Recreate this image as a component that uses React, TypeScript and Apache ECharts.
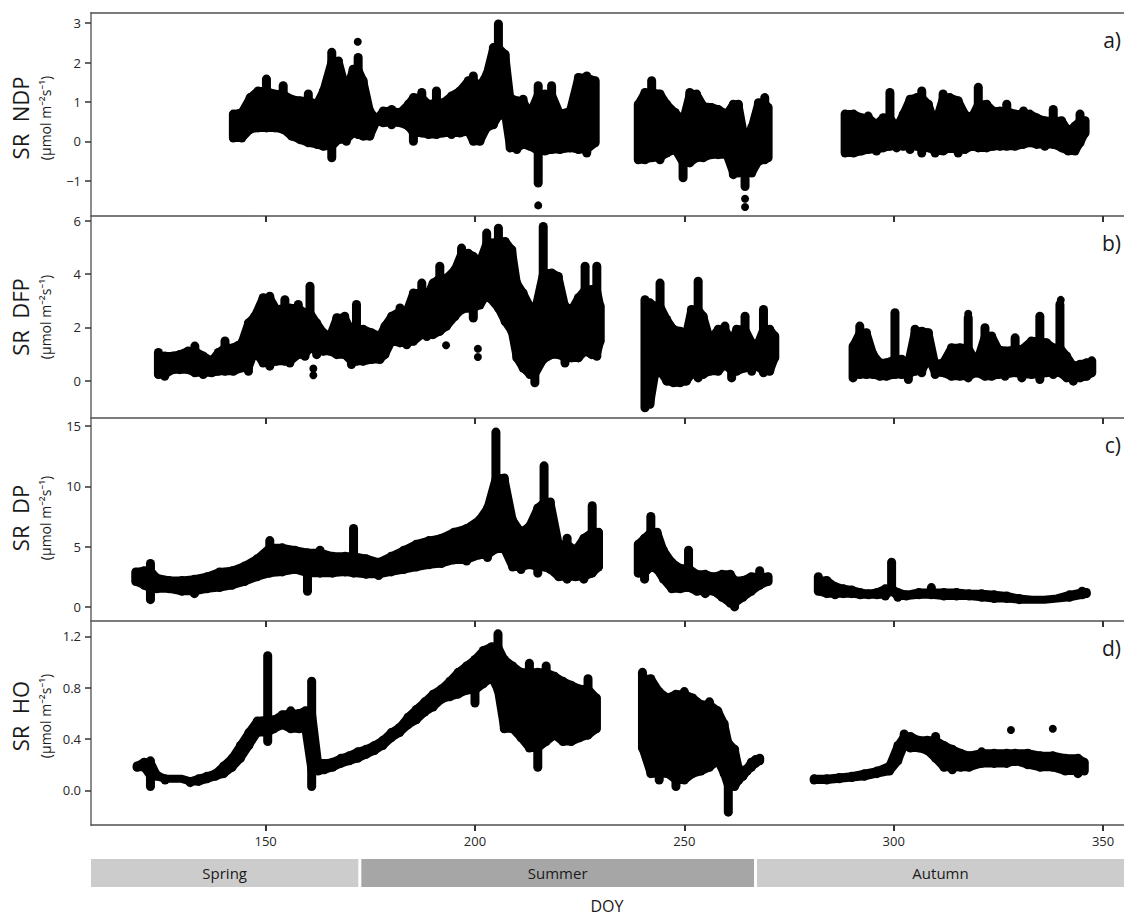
import React, { useEffect, useRef } from "react";
import * as echarts from "echarts";

// ---------- data (DOY, lowest value, highest value of the point cloud) ----------
const doyTicks = [150, 200, 250, 300, 350];
const ndpTicks = [-1, 0, 1, 2, 3];
const dfpTicks = [0, 2, 4, 6];
const dpTicks = [0, 5, 10, 15];
const hoTicks = [0, 0.4, 0.8, 1.2];

const panelNames = ["SR  NDP", "SR  DFP", "SR  DP", "SR  HO"];
const panelLetters = ["a)", "b)", "c)", "d)"];
const unitLabel = "(\u03bcmol m\u207b\u00b2s\u207b\u00b9)";

const seasonNames = ["Spring", "Summer", "Autumn"];
const seasonStart = [108.3, 172.5, 267.0];
const seasonEnd = [172.5, 267.0, 355.0];

const ndpEarly = [
  [142.3, 0.08, 0.69], [144.3, 0.08, 0.73], [146.3, 0.3, 1.11], [148.2, 0.34, 1.28],
  [150.2, 0.34, 1.58], [152.2, 0.34, 1.2], [154.2, 0.3, 1.41], [156.2, 0.13, 1.07],
  [158.2, 0.04, 1.03], [160.2, -0.04, 1.2], [162.2, -0.08, 0.94], [163.8, -0.13, 1.28],
  [165.8, -0.42, 2.26], [167.4, 0.04, 2.04], [169.3, 0.0, 1.28], [170.9, 0.21, 1.83],
  [172.1, 0.17, 2.13], [173.3, 0.13, 1.54], [174.9, 0.13, 0.77], [176.5, 0.51, 0.56],
  [178.1, 0.47, 0.77], [180.1, 0.42, 0.81], [182.1, 0.47, 0.73], [184.1, 0.38, 0.94],
  [185.3, 0.0, 1.11], [187.3, 0.21, 1.24], [188.9, 0.17, 0.94], [190.8, 0.17, 1.28],
  [192.4, 0.21, 0.98], [194.4, 0.17, 1.15], [196.4, 0.21, 1.28], [198.4, 0.25, 1.54],
  [199.6, 0.0, 1.66], [201.2, 0.0, 1.41], [202.8, 0.34, 1.7], [204.4, 0.42, 2.38],
  [205.6, 0.64, 2.98], [207.2, 0.68, 2.21], [208.4, -0.17, 1.11], [210.0, -0.21, 1.03],
  [211.5, -0.08, 1.07], [213.1, -0.13, 0.69], [215.1, -1.06, 1.41], [216.7, -0.25, 1.2],
  [218.3, -0.21, 1.41], [220.3, -0.21, 0.69], [222.7, -0.17, 0.77], [224.7, -0.21, 1.62],
  [226.7, -0.3, 1.66], [228.7, -0.04, 1.54],
];
const ndpLate = [
  [239.0, -0.47, 0.94], [240.6, -0.47, 1.24], [242.2, -0.42, 1.54], [244.2, -0.47, 1.2],
  [245.8, -0.3, 0.94], [247.8, -0.21, 0.73], [249.7, -0.93, 0.52], [251.3, -0.55, 1.24],
  [252.9, -0.42, 1.2], [254.5, -0.42, 0.9], [256.5, -0.34, 0.86], [258.1, -0.34, 0.81],
  [260.1, -0.34, 0.69], [261.7, -0.85, 0.94], [262.9, -0.81, 0.94], [264.5, -1.15, 0.01],
  [266.1, -0.81, 0.35], [267.7, -0.51, 0.98], [269.2, -0.47, 1.11], [270.0, -0.42, 0.86],
];
const ndpAutumn = [
  [288.4, -0.3, 0.69], [290.4, -0.3, 0.69], [292.3, -0.25, 0.6], [293.9, -0.21, 0.64],
  [295.9, -0.25, 0.43], [297.5, -0.17, 0.6], [299.1, -0.13, 1.24], [300.7, -0.17, 0.35],
  [302.3, -0.13, 0.69], [303.9, -0.21, 1.07], [305.5, -0.13, 1.11], [306.7, -0.3, 1.28],
  [308.3, -0.17, 0.94], [309.9, -0.3, 0.43], [311.8, -0.25, 1.2], [313.4, -0.17, 1.11],
  [315.4, -0.3, 1.03], [317.0, -0.21, 0.69], [318.6, -0.13, 0.6], [320.2, -0.17, 1.37],
  [322.2, -0.17, 0.94], [323.8, -0.13, 0.77], [325.4, -0.13, 0.77], [327.0, -0.13, 0.94],
  [329.0, -0.13, 0.69], [331.0, -0.08, 0.77], [332.5, -0.04, 0.69], [334.1, -0.08, 0.6],
  [336.1, -0.13, 0.52], [338.1, -0.08, 0.81], [340.1, -0.17, 0.52], [341.7, -0.25, 0.26],
  [343.3, -0.25, 0.39], [344.5, -0.04, 0.69], [345.7, 0.21, 0.52],
];
const ndpDots = [[215.1, -1.63], [264.5, -1.46], [264.5, -1.67], [172.0, 2.53]];

const dfpEarly = [
  [124.4, 0.24, 1.06], [125.9, 0.17, 0.93], [127.9, 0.42, 0.93], [129.5, 0.42, 0.99],
  [131.5, 0.42, 1.12], [133.1, 0.3, 1.3], [135.1, 0.24, 0.93], [137.1, 0.3, 0.75],
  [138.7, 0.36, 1.06], [140.3, 0.36, 1.49], [142.3, 0.36, 1.24], [144.3, 0.48, 1.43],
  [145.9, 0.36, 2.17], [147.4, 1.11, 2.42], [149.4, 0.67, 3.11], [151.0, 0.55, 3.17],
  [152.6, 0.73, 2.67], [154.6, 0.73, 3.04], [155.8, 0.67, 2.73], [157.8, 0.98, 2.86],
  [159.4, 0.92, 2.55], [160.6, 1.23, 3.54], [162.2, 0.98, 2.17], [163.8, 1.11, 1.8],
  [165.4, 1.11, 1.68], [167.0, 0.98, 2.36], [168.9, 0.98, 2.42], [170.5, 0.61, 1.86],
  [171.7, 0.73, 2.86], [173.3, 0.73, 1.93], [175.3, 0.8, 1.8], [177.3, 0.8, 1.68],
  [178.5, 0.98, 2.05], [180.1, 1.48, 2.42], [182.1, 1.42, 2.73], [183.7, 1.35, 2.61],
  [185.3, 1.48, 3.29], [187.3, 1.73, 3.66], [188.5, 1.66, 3.17], [190.0, 1.73, 3.66],
  [191.6, 1.85, 4.29], [193.2, 2.04, 3.85], [195.2, 2.41, 4.16], [196.8, 2.66, 4.97],
  [198.4, 2.72, 4.78], [199.6, 2.35, 4.66], [201.2, 2.84, 4.47], [202.8, 3.22, 5.53],
  [203.6, 3.09, 5.16], [205.6, 2.72, 5.71], [207.2, 2.22, 5.22], [208.8, 1.85, 4.91],
  [210.0, 0.86, 3.66], [211.5, 0.48, 3.29], [213.1, 0.24, 2.8], [214.3, -0.07, 2.61],
  [216.3, 0.8, 5.78], [218.3, 0.98, 4.04], [219.9, 0.98, 3.91], [221.5, 0.67, 2.8],
  [223.1, 0.86, 2.67], [224.7, 0.86, 3.11], [226.3, 1.11, 4.29], [227.9, 0.98, 3.42],
  [229.1, 0.92, 4.29], [229.9, 1.48, 2.8],
];
const dfpLate = [
  [240.6, -1.01, 3.04], [241.8, -0.88, 2.92], [243.0, 0.24, 2.8], [244.2, 0.36, 3.66],
  [245.8, -0.01, 2.3], [247.4, -0.07, 1.93], [249.0, -0.07, 1.86], [250.5, -0.01, 1.8],
  [251.7, 0.24, 2.67], [253.3, 0.11, 3.73], [254.5, 0.24, 2.42], [256.1, 0.36, 1.55],
  [258.1, 0.36, 1.93], [259.7, 0.61, 2.05], [261.3, 0.11, 1.49], [262.5, 0.36, 1.93],
  [264.5, 0.48, 2.42], [266.1, 0.36, 1.43], [267.3, 0.55, 1.3], [268.9, 0.3, 2.67],
  [270.4, 0.36, 1.93], [271.6, 0.86, 1.68],
];
const dfpAutumn = [
  [290.3, 0.11, 1.3], [291.9, 0.24, 2.05], [293.5, 0.24, 1.8], [295.1, 0.24, 0.99],
  [296.7, 0.17, 0.68], [298.3, 0.17, 0.68], [300.3, 0.24, 2.55], [301.9, 0.24, 0.81],
  [303.5, 0.05, 0.68], [305.1, 0.36, 1.93], [306.7, 0.3, 1.86], [308.3, 0.86, 1.8],
  [309.9, 0.24, 0.62], [311.8, 0.3, 0.68], [313.8, 0.17, 1.24], [315.8, 0.17, 1.24],
  [317.8, 0.11, 2.36], [319.8, 0.3, 0.68], [321.8, 0.17, 1.99], [323.4, 0.17, 1.68],
  [325.0, 0.24, 1.18], [326.6, 0.17, 1.12], [329.0, 0.3, 1.61], [330.6, 0.11, 1.18],
  [332.9, 0.24, 1.49], [334.9, 0.05, 2.42], [336.5, 0.3, 1.43], [338.1, 0.24, 1.24],
  [339.7, 0.3, 2.86], [341.3, 0.11, 0.93], [342.9, -0.01, 0.56], [344.5, 0.11, 0.62],
  [346.1, 0.17, 0.68], [347.3, 0.3, 0.75],
];
const dfpDots = [[161.4, 0.46], [161.4, 0.21], [200.7, 0.89], [200.7, 1.2], [193.1, 1.33], [317.8, 2.51], [339.9, 3.03]];

const dpEarly = [
  [119.0, 2.1, 2.9], [121.0, 1.8, 3.0], [122.5, 0.6, 3.6], [124.0, 1.5, 2.4],
  [127.0, 1.5, 2.2], [130.0, 1.3, 2.2], [133.0, 1.1, 2.3], [136.0, 1.5, 2.5],
  [139.0, 1.6, 2.9], [142.0, 1.8, 3.0], [145.0, 2.1, 3.4], [148.0, 2.5, 4.0],
  [151.0, 2.8, 5.5], [154.0, 2.9, 4.9], [157.0, 3.1, 4.7], [160.0, 1.3, 4.5],
  [163.0, 2.8, 4.7], [166.0, 2.8, 4.2], [169.0, 2.9, 4.2], [171.0, 2.8, 6.5],
  [174.0, 2.7, 4.0], [177.0, 2.6, 3.7], [180.0, 2.9, 4.2], [183.0, 3.1, 4.7],
  [186.0, 3.3, 5.2], [189.0, 3.5, 5.5], [192.0, 3.6, 5.7], [195.0, 3.9, 6.2],
  [198.0, 3.8, 6.5], [201.0, 4.3, 7.2], [203.0, 4.1, 8.2], [205.0, 4.8, 14.5],
  [207.0, 4.8, 10.7], [209.0, 3.3, 7.2], [211.0, 3.1, 6.2], [213.0, 3.5, 6.7],
  [215.0, 2.8, 8.2], [216.5, 3.3, 11.7], [218.0, 3.1, 8.7], [220.0, 2.5, 5.2],
  [222.0, 2.3, 5.7], [224.0, 2.5, 4.7], [226.0, 2.3, 5.7], [228.0, 2.8, 8.4],
  [229.5, 3.3, 6.2],
];
const dpLate = [
  [239.0, 2.8, 5.2], [240.5, 2.3, 5.7], [242.0, 3.3, 7.5], [243.5, 3.1, 6.2],
  [245.0, 2.3, 4.7], [247.0, 1.5, 3.7], [249.0, 1.5, 3.2], [251.0, 1.6, 4.7],
  [253.0, 1.3, 2.7], [255.0, 1.1, 2.7], [257.0, 1.3, 2.5], [259.0, 0.8, 2.7],
  [261.0, 0.3, 2.7], [262.0, 0.0, 2.2], [264.0, 0.8, 2.2], [266.0, 1.3, 2.5],
  [268.0, 1.8, 3.0], [270.0, 2.1, 2.5],
];
const dpAutumn = [
  [282.0, 1.3, 2.5], [284.0, 1.1, 2.2], [286.0, 1.0, 1.7], [288.0, 1.1, 1.5],
  [290.0, 1.1, 1.4], [292.0, 1.0, 1.2], [294.0, 1.0, 1.1], [296.0, 1.0, 1.2],
  [298.0, 0.9, 1.5], [299.5, 1.3, 3.7], [301.0, 0.8, 1.2], [303.0, 0.9, 1.0],
  [306.0, 1.0, 1.2], [309.0, 1.0, 1.6], [312.0, 0.9, 1.2], [315.0, 0.9, 1.2],
  [318.0, 0.9, 1.1], [321.0, 0.8, 1.1], [324.0, 0.7, 1.0], [327.0, 0.7, 0.9],
  [330.0, 0.6, 0.7], [333.0, 0.6, 0.6], [336.0, 0.6, 0.6], [339.0, 0.7, 0.7],
  [342.0, 0.8, 1.0], [345.0, 1.0, 1.3], [346.0, 1.1, 1.2],
];
const dpDots = [];

const hoEarly = [
  [119.3, 0.18, 0.19], [121.0, 0.18, 0.22], [122.5, 0.03, 0.23], [124.0, 0.11, 0.12],
  [126.0, 0.08, 0.09], [128.0, 0.09, 0.09], [130.0, 0.09, 0.09], [132.0, 0.06, 0.07],
  [134.0, 0.07, 0.09], [136.0, 0.09, 0.11], [138.0, 0.11, 0.13], [140.0, 0.13, 0.19],
  [142.0, 0.18, 0.25], [144.0, 0.25, 0.35], [146.0, 0.35, 0.45], [148.0, 0.45, 0.54],
  [150.5, 0.38, 1.05], [152.0, 0.48, 0.55], [154.0, 0.51, 0.59], [156.0, 0.48, 0.62],
  [158.0, 0.48, 0.6], [159.5, 0.48, 0.62], [161.0, 0.03, 0.85], [162.5, 0.15, 0.22],
  [164.0, 0.16, 0.21], [166.0, 0.18, 0.22], [168.0, 0.21, 0.25], [170.0, 0.23, 0.27],
  [172.0, 0.25, 0.3], [174.0, 0.28, 0.32], [176.0, 0.31, 0.35], [178.0, 0.35, 0.39],
  [180.0, 0.41, 0.45], [182.0, 0.45, 0.49], [184.0, 0.51, 0.57], [186.0, 0.55, 0.63],
  [188.0, 0.61, 0.69], [190.0, 0.65, 0.75], [192.0, 0.71, 0.79], [194.0, 0.73, 0.85],
  [196.0, 0.75, 0.92], [198.0, 0.78, 0.97], [200.0, 0.68, 1.02], [202.0, 0.83, 1.09],
  [204.0, 0.88, 1.12], [205.5, 0.78, 1.22], [207.0, 0.48, 1.02], [209.0, 0.48, 0.97],
  [211.0, 0.41, 0.92], [213.0, 0.33, 0.99], [215.0, 0.18, 0.92], [217.0, 0.38, 0.97],
  [219.0, 0.43, 0.89], [221.0, 0.38, 0.85], [223.0, 0.38, 0.82], [225.0, 0.41, 0.79],
  [227.0, 0.43, 0.87], [229.0, 0.48, 0.72],
];
const hoLate = [
  [240.0, 0.33, 0.92], [242.0, 0.13, 0.87], [244.0, 0.08, 0.77], [246.0, 0.13, 0.72],
  [248.0, 0.03, 0.75], [250.0, 0.08, 0.77], [252.0, 0.13, 0.72], [254.0, 0.15, 0.67],
  [256.0, 0.18, 0.69], [258.0, 0.23, 0.62], [259.5, 0.13, 0.52], [260.5, -0.17, 0.37],
  [262.0, 0.03, 0.32], [263.0, 0.08, 0.17], [264.0, 0.11, 0.15], [265.0, 0.15, 0.17],
  [266.0, 0.18, 0.22], [267.0, 0.21, 0.24], [268.0, 0.23, 0.25],
];
const hoAutumn = [
  [281.0, 0.08, 0.09], [284.0, 0.08, 0.09], [287.0, 0.09, 0.1], [290.0, 0.1, 0.11],
  [293.0, 0.11, 0.13], [296.0, 0.13, 0.15], [299.0, 0.15, 0.19], [301.0, 0.23, 0.35],
  [302.5, 0.35, 0.44], [304.0, 0.33, 0.42], [306.0, 0.33, 0.39], [308.0, 0.31, 0.39],
  [310.0, 0.25, 0.42], [312.0, 0.18, 0.35], [314.0, 0.16, 0.32], [316.0, 0.18, 0.29],
  [318.0, 0.18, 0.27], [321.0, 0.21, 0.3], [324.0, 0.21, 0.29], [327.0, 0.21, 0.29],
  [329.0, 0.23, 0.29], [332.0, 0.2, 0.29], [335.0, 0.18, 0.27], [338.0, 0.18, 0.27],
  [341.0, 0.15, 0.25], [344.0, 0.13, 0.25], [345.5, 0.15, 0.22],
];
const hoDots = [[328.0, 0.47], [338.0, 0.48]];

// ---------- layout ----------
const FONT = '"Open Sans", "Noto Sans", "DejaVu Sans", sans-serif';
const X_MIN = 108.3;
const X_MAX = 355;
const GRID_LEFT = 91;
const DOT = 8;
const panelTops = [13, 216, 418, 621];
const panelHeights = [203, 202, 203, 204];
const yMins = [-1.9, -1.39, -1.17, -0.27];
const yMaxs = [3.26, 6.17, 15.67, 1.32];
const titleY = [118, 317, 518, 716];
const letterY = [40, 243, 445, 648];

const panels = [
  { ticks: ndpTicks, segs: [ndpEarly, ndpLate, ndpAutumn], dots: ndpDots },
  { ticks: dfpTicks, segs: [dfpEarly, dfpLate, dfpAutumn], dots: dfpDots },
  { ticks: dpTicks, segs: [dpEarly, dpLate, dpAutumn], dots: dpDots },
  { ticks: hoTicks, segs: [hoEarly, hoLate, hoAutumn], dots: hoDots },
];

function fmtY(i: number) {
  return (v: number) => {
    if (i === 3) return v.toFixed(1);
    return v < 0 ? "\u2212" + Math.abs(v) : String(v);
  };
}

// Each segment of the point cloud: a body polygon (peaks trimmed to the
// neighbours' extent) plus one round-capped column of dots per sampled day.
function blobRenderer(segs: number[][][]) {
  return (params: any, api: any) => {
    const seg = segs[api.value(2)];
    const n = seg.length;
    const hiP: number[] = [];
    const loP: number[] = [];
    for (let k = 0; k < n; k++) {
      const nb: number[][] = [];
      if (k > 0) nb.push(seg[k - 1]);
      if (k < n - 1) nb.push(seg[k + 1]);
      const nbHi = Math.max(...nb.map((r) => r[2]));
      const nbLo = Math.min(...nb.map((r) => r[1]));
      let h = Math.min(seg[k][2], nbHi);
      let l = Math.max(seg[k][1], nbLo);
      if (l > h) { const m = (l + h) / 2; l = m; h = m; }
      hiP.push(h);
      loP.push(l);
    }
    const top = seg.map((r, k) => api.coord([r[0], hiP[k]]));
    const bot = seg.map((r, k) => api.coord([r[0], loP[k]])).reverse();
    const children: any[] = [
      {
        type: "polygon",
        shape: { points: top.concat(bot) },
        style: { fill: "#000", stroke: "#000", lineWidth: DOT, lineJoin: "round" },
      },
    ];
    seg.forEach((r) => {
      const a = api.coord([r[0], r[2]]);
      const b = api.coord([r[0], r[1]]);
      children.push({
        type: "line",
        shape: { x1: a[0], y1: a[1], x2: b[0], y2: b[1] },
        style: { stroke: "#000", lineWidth: DOT + 1, lineCap: "round" },
      });
    });
    return { type: "group", children };
  };
}

function buildOption() {
  const grid: any[] = panelTops.map((t, i) => ({
    left: GRID_LEFT, right: 0, top: t, height: panelHeights[i], containLabel: false,
  }));
  grid.push({ left: GRID_LEFT, right: 0, top: 859, height: 28 });

  const xAxis: any[] = panels.map((p, i) => ({
    gridIndex: i, type: "value", min: X_MIN, max: X_MAX,
    axisLine: { show: true, onZero: false, lineStyle: { color: "#505050", width: 1.5 } },
    axisTick: { show: true, inside: false, length: 6, customValues: doyTicks, lineStyle: { color: "#333", width: 2 } },
    axisLabel: {
      show: i === 3, customValues: doyTicks, color: "#262626", fontSize: 13, fontFamily: FONT, margin: 9,
    },
    splitLine: { show: false },
  }));
  xAxis.push({
    gridIndex: 0, type: "value", position: "top", min: X_MIN, max: X_MAX,
    axisLine: { show: true, onZero: false, lineStyle: { color: "#505050", width: 1.5 } },
    axisTick: { show: false }, axisLabel: { show: false }, splitLine: { show: false },
  });
  xAxis.push({
    gridIndex: 4, type: "value", min: X_MIN, max: X_MAX, show: false,
  });

  const yAxis: any[] = panels.map((p, i) => ({
    gridIndex: i, type: "value", min: yMins[i], max: yMaxs[i],
    axisLine: { show: true, onZero: false, lineStyle: { color: "#8c8c8c", width: 2 } },
    axisTick: { show: true, inside: false, length: 6, customValues: p.ticks, lineStyle: { color: "#333", width: 1.5 } },
    axisLabel: {
      customValues: p.ticks, formatter: fmtY(i), color: "#262626", fontSize: 13, fontFamily: FONT, margin: 10,
    },
    splitLine: { show: false },
  }));
  yAxis.push({ gridIndex: 4, type: "value", min: 0, max: 1, show: false });

  const series: any[] = [];
  panels.forEach((p, i) => {
    series.push({
      type: "custom",
      xAxisIndex: i, yAxisIndex: i,
      clip: true,
      silent: true,
      renderItem: blobRenderer(p.segs),
      data: p.segs.map((s, k) => [s[0][0], s[0][1], k]),
    });
    series.push({
      type: "scatter",
      xAxisIndex: i, yAxisIndex: i,
      symbol: "circle", symbolSize: DOT,
      itemStyle: { color: "#000", opacity: 1 },
      silent: true,
      data: p.dots,
    });
  });

  series.push({
    type: "custom",
    xAxisIndex: 5, yAxisIndex: 4,
    silent: true,
    data: seasonNames.map((n, i) => [seasonStart[i], seasonEnd[i], i]),
    renderItem: (params: any, api: any) => {
      const i = api.value(2);
      const a = api.coord([api.value(0), 1]);
      const b = api.coord([api.value(1), 0]);
      const x0 = a[0] + (i > 0 ? 1.5 : 0);
      const x1 = b[0] - (i < 2 ? 1.5 : 0);
      return {
        type: "group",
        children: [
          {
            type: "rect",
            shape: { x: x0, y: a[1], width: x1 - x0, height: b[1] - a[1] },
            style: { fill: i === 1 ? "#a6a6a6" : "#cccccc" },
          },
          {
            type: "text",
            x: (x0 + x1) / 2, y: (a[1] + b[1]) / 2,
            style: {
              text: seasonNames[i], fill: "#1a1a1a", font: `15px ${FONT}`,
              align: "center", verticalAlign: "middle",
            },
          },
        ],
      };
    },
  });

  const graphic: any[] = [];
  panels.forEach((p, i) => {
    graphic.push({
      type: "text", x: 20, y: titleY[i], rotation: Math.PI / 2,
      style: { text: panelNames[i], fill: "#1a1a1a", font: `22px ${FONT}`, align: "center", verticalAlign: "middle" },
    });
    graphic.push({
      type: "text", x: 45, y: titleY[i], rotation: Math.PI / 2,
      style: { text: unitLabel, fill: "#1a1a1a", font: `14px ${FONT}`, align: "center", verticalAlign: "middle" },
    });
    graphic.push({
      type: "text", x: 1121, y: letterY[i],
      style: { text: panelLetters[i], fill: "#1a1a1a", font: `21px ${FONT}`, align: "right", verticalAlign: "middle" },
    });
  });
  graphic.push({
    type: "text", x: 607, y: 906,
    style: { text: "DOY", fill: "#1a1a1a", font: `16px ${FONT}`, align: "center", verticalAlign: "middle" },
  });

  return {
    animation: false,
    backgroundColor: "#ffffff",
    textStyle: { fontFamily: FONT },
    grid, xAxis, yAxis, series, graphic,
  };
}

export default function App() {
  const ref = useRef<HTMLDivElement>(null);
  useEffect(() => {
    if (!ref.current) return;
    const chart = echarts.init(ref.current, null, { renderer: "svg" });
    chart.setOption(buildOption() as any);
    return () => chart.dispose();
  }, []);
  return (
    <div
      ref={ref}
      style={{ position: "absolute", left: 0, top: 0, width: 1124, height: 920, background: "#fff" }}
    />
  );
}
